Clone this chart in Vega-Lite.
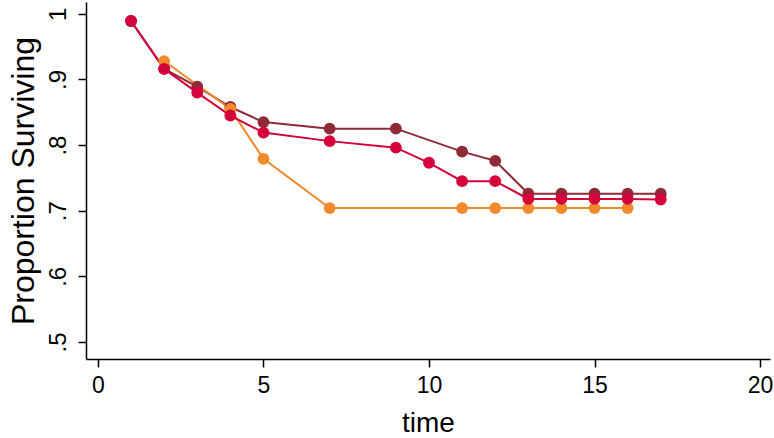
{
  "$schema": "https://vega.github.io/schema/vega-lite/v6.json",
  "width": 684,
  "height": 357,
  "autosize": "none",
  "padding": {"left": 86, "top": 2, "right": 4, "bottom": 79},
  "background": "white",
  "config": {"view": {"stroke": null}, "font": "Liberation Sans"},
  "data": {"values": [
    {"group": "A", "time": 1, "surv": 0.989},
    {"group": "A", "time": 2, "surv": 0.916},
    {"group": "A", "time": 3, "surv": 0.889},
    {"group": "A", "time": 4, "surv": 0.858},
    {"group": "A", "time": 5, "surv": 0.835},
    {"group": "A", "time": 7, "surv": 0.825},
    {"group": "A", "time": 9, "surv": 0.825},
    {"group": "A", "time": 11, "surv": 0.790},
    {"group": "A", "time": 12, "surv": 0.776},
    {"group": "A", "time": 13, "surv": 0.726},
    {"group": "A", "time": 14, "surv": 0.726},
    {"group": "A", "time": 15, "surv": 0.726},
    {"group": "A", "time": 16, "surv": 0.726},
    {"group": "A", "time": 17, "surv": 0.726},
    {"group": "B", "time": 2, "surv": 0.928},
    {"group": "B", "time": 4, "surv": 0.855},
    {"group": "B", "time": 5, "surv": 0.779},
    {"group": "B", "time": 7, "surv": 0.704},
    {"group": "B", "time": 11, "surv": 0.704},
    {"group": "B", "time": 12, "surv": 0.704},
    {"group": "B", "time": 13, "surv": 0.704},
    {"group": "B", "time": 14, "surv": 0.704},
    {"group": "B", "time": 15, "surv": 0.704},
    {"group": "B", "time": 16, "surv": 0.704},
    {"group": "C", "time": 1, "surv": 0.989},
    {"group": "C", "time": 2, "surv": 0.916},
    {"group": "C", "time": 3, "surv": 0.880},
    {"group": "C", "time": 4, "surv": 0.845},
    {"group": "C", "time": 5, "surv": 0.819},
    {"group": "C", "time": 7, "surv": 0.806},
    {"group": "C", "time": 9, "surv": 0.796},
    {"group": "C", "time": 10, "surv": 0.773},
    {"group": "C", "time": 11, "surv": 0.745},
    {"group": "C", "time": 12, "surv": 0.745},
    {"group": "C", "time": 13, "surv": 0.718},
    {"group": "C", "time": 14, "surv": 0.718},
    {"group": "C", "time": 15, "surv": 0.718},
    {"group": "C", "time": 16, "surv": 0.718},
    {"group": "C", "time": 17, "surv": 0.717}
  ]},
  "encoding": {
    "x": {"field": "time", "type": "quantitative",
      "scale": {"domain": [-0.36, 20.3], "nice": false, "zero": false},
      "axis": {"values": [0, 5, 10, 15, 20], "title": "time", "grid": false,
        "domainColor": "black", "domainWidth": 1.5, "tickColor": "black", "tickWidth": 1.5, "tickSize": 8,
        "labelFontSize": 23, "labelColor": "black", "labelPadding": 7, "labelFlush": false,
        "titleFontSize": 28, "titleFontWeight": "normal", "titleColor": "black", "titlePadding": 12}},
    "y": {"field": "surv", "type": "quantitative",
      "scale": {"domain": [0.474, 1.018], "nice": false, "zero": false},
      "axis": {"values": [0.5, 0.6, 0.7, 0.8, 0.9, 1], "title": "Proportion Surviving", "grid": false,
        "labelExpr": "datum.value == 1 ? '1' : replace(format(datum.value, '.1f'), '0.', '.')",
        "labelAngle": -90, "labelAlign": "center", "labelBaseline": "bottom",
        "domainColor": "black", "domainWidth": 1.5, "tickColor": "black", "tickWidth": 1.5, "tickSize": 8,
        "labelFontSize": 24, "labelColor": "black", "labelPadding": 8, "labelFlush": false,
        "titleFontSize": 32, "titleFontWeight": "normal", "titleColor": "black", "titlePadding": 6}},
    "color": {"field": "group", "type": "nominal", "legend": null,
      "scale": {"domain": ["A", "B", "C"], "range": ["#8f2a36", "#f08a2c", "#d5033c"]}}
  },
  "layer": [
    {"mark": {"type": "line", "strokeWidth": 2}},
    {"mark": {"type": "point", "filled": true, "size": 140, "opacity": 1}}
  ]
}
